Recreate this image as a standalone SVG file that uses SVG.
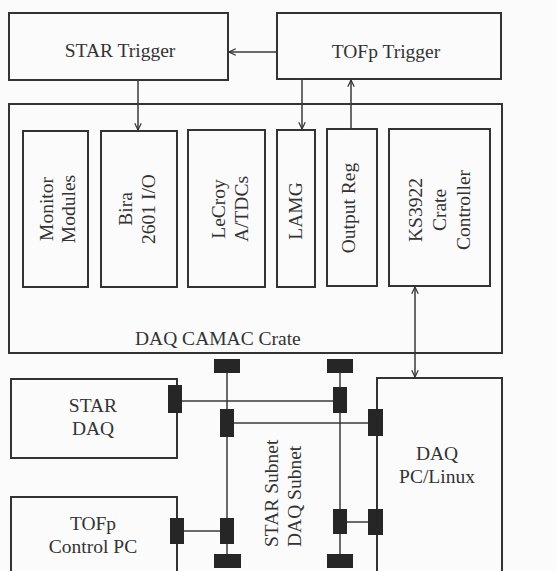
<svg xmlns="http://www.w3.org/2000/svg" width="557" height="571" viewBox="0 0 557 571">
<style>
.box{fill:none;stroke:#333;stroke-width:2}
.ln{fill:none;stroke:#3a3a3a;stroke-width:1.5}
.blk{fill:#262626;stroke:none}
text{font-family:"Liberation Serif","Times New Roman",serif;font-size:19.5px;fill:#333}
.c{text-anchor:middle}
</style>
<defs>
<marker id="ah" viewBox="0 0 10 10" refX="9.5" refY="5" markerWidth="8" markerHeight="8" orient="auto-start-reverse" markerUnits="userSpaceOnUse">
<path d="M1,1 L9.5,5 L1,9" fill="none" stroke="#333" stroke-width="1.5"/>
</marker>
</defs>
<rect width="557" height="571" fill="#fbfbfb"/>

<g id="star-trigger">
<rect class="box" x="9" y="13" width="219" height="67"/>
<text class="c" x="120" y="57">STAR Trigger</text>
</g>
<g id="tofp-trigger">
<rect class="box" x="277" y="13" width="224" height="66"/>
<text class="c" x="386" y="58">TOFp Trigger</text>
</g>

<g id="camac-crate">
<rect class="box" x="9" y="104" width="493" height="249"/>
<text x="135" y="345">DAQ CAMAC Crate</text>
</g>
<g id="monitor-modules">
<rect class="box" x="23" y="131" width="65" height="156"/>
<g transform="translate(0,209) rotate(-90)"><text class="c" x="0" y="53">Monitor</text><text class="c" x="0" y="75">Modules</text></g>
</g>
<g id="bira">
<rect class="box" x="101" y="131" width="76" height="156"/>
<g transform="translate(0,209) rotate(-90)"><text class="c" x="0" y="132">Bira</text><text class="c" x="0" y="155">2601 I/O</text></g>
</g>
<g id="lecroy">
<rect class="box" x="188" y="130" width="77" height="157"/>
<g transform="translate(0,209) rotate(-90)"><text class="c" x="0" y="225">LeCroy</text><text class="c" x="0" y="248">A/TDCs</text></g>
</g>
<g id="lamg">
<rect class="box" x="277" y="130" width="38" height="157"/>
<g transform="translate(0,211) rotate(-90)"><text class="c" x="0" y="302">LAMG</text></g>
</g>
<g id="output-reg">
<rect class="box" x="327" y="129" width="50" height="157"/>
<g transform="translate(0,208) rotate(-90)"><text class="c" x="0" y="355">Output Reg</text></g>
</g>
<g id="ks3922">
<rect class="box" x="389" y="129" width="101" height="157"/>
<g transform="translate(0,210) rotate(-90)"><text class="c" x="0" y="422">KS3922</text><text class="c" x="0" y="446">Crate</text><text class="c" x="0" y="470">Controller</text></g>
</g>

<g id="star-daq">
<rect class="box" x="11" y="379" width="166" height="79"/>
<text class="c" x="93" y="412">STAR</text>
<text class="c" x="93" y="435">DAQ</text>
</g>
<g id="tofp-control-pc">
<rect class="box" x="11" y="497" width="166" height="90"/>
<text class="c" x="93" y="530">TOFp</text>
<text class="c" x="93" y="553">Control PC</text>
</g>
<g id="daq-pc">
<rect class="box" x="377" y="378" width="125" height="210"/>
<text class="c" x="437" y="460">DAQ</text>
<text class="c" x="437" y="483">PC/Linux</text>
</g>
<g id="subnets">
<text transform="translate(278,547) rotate(-90)">STAR Subnet</text>
<text transform="translate(301,547) rotate(-90)">DAQ Subnet</text>
</g>

<g id="connectors">
<line class="ln" x1="277" y1="52" x2="229" y2="52" marker-end="url(#ah)"/>
<line class="ln" x1="138" y1="80" x2="138" y2="130" marker-end="url(#ah)"/>
<line class="ln" x1="302" y1="79" x2="302" y2="129" marker-end="url(#ah)"/>
<line class="ln" x1="351" y1="129" x2="351" y2="80" marker-end="url(#ah)"/>
<line class="ln" x1="415" y1="287" x2="415" y2="377" marker-start="url(#ah)" marker-end="url(#ah)"/>
<line class="ln" x1="227" y1="366" x2="227" y2="561"/>
<line class="ln" x1="340" y1="366" x2="340" y2="561"/>
<line class="ln" x1="182" y1="401" x2="333" y2="401"/>
<line class="ln" x1="234" y1="423" x2="368" y2="423"/>
<line class="ln" x1="184" y1="531" x2="220" y2="531"/>
<line class="ln" x1="347" y1="522" x2="368" y2="522"/>
<rect class="blk" x="214" y="359" width="26" height="14"/>
<rect class="blk" x="327" y="359" width="26" height="14"/>
<rect class="blk" x="214" y="554" width="27" height="14"/>
<rect class="blk" x="327" y="554" width="26" height="14"/>
<rect class="blk" x="168" y="385" width="14" height="28"/>
<rect class="blk" x="333" y="387" width="14" height="26"/>
<rect class="blk" x="220" y="409" width="14" height="28"/>
<rect class="blk" x="368" y="409" width="15" height="27"/>
<rect class="blk" x="170" y="518" width="14" height="26"/>
<rect class="blk" x="220" y="518" width="14" height="26"/>
<rect class="blk" x="333" y="509" width="14" height="25"/>
<rect class="blk" x="368" y="509" width="15" height="26"/>
</g>
</svg>
